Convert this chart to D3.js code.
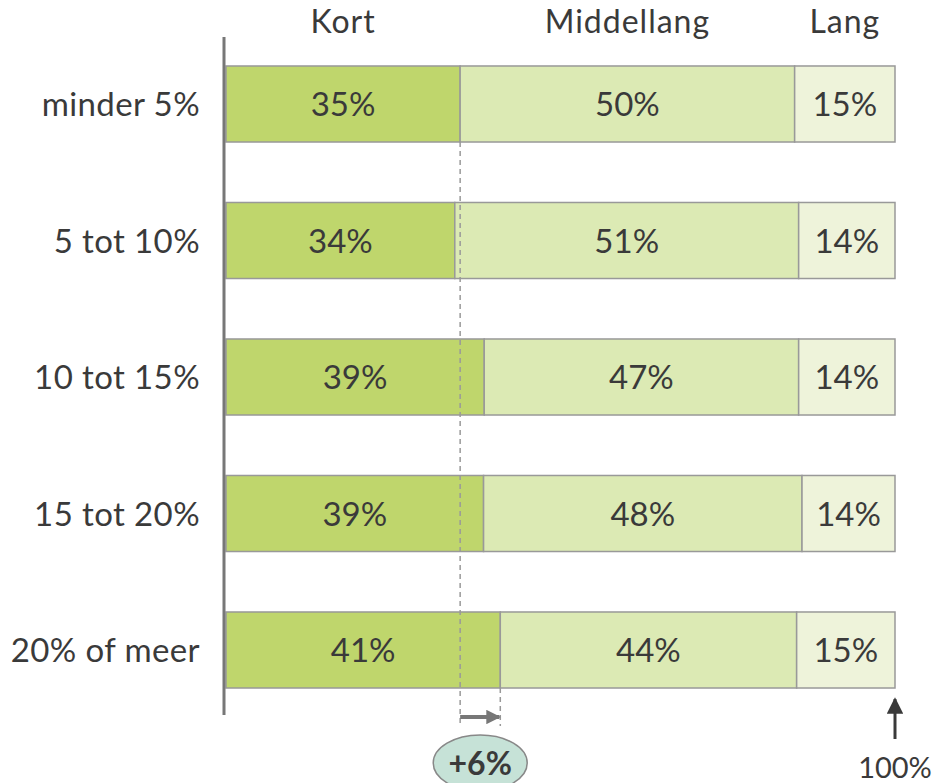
<!DOCTYPE html>
<html>
<head>
<meta charset="utf-8">
<script src="https://cdn.jsdelivr.net/npm/d3@7"></script>
<style>
  body { margin: 0; background: #fff; }
  svg text { font-family: Lato, "Open Sans", sans-serif; fill: #3a3a3a; }
</style>
</head>
<body>
<svg width="939" height="783"></svg>
<script>
var categories = ["minder 5%", "5 tot 10%", "10 tot 15%", "15 tot 20%", "20% of meer"]
var series = ["Kort", "Middellang", "Lang"]
var kort = [35.0, 34.2, 38.6, 38.5, 41.0]
var middellang = [50.0, 51.4, 47.0, 47.6, 44.3]
var lang = [15.0, 14.4, 14.4, 13.9, 14.7]
var labels = [[35, 50, 15], [34, 51, 14], [39, 47, 14], [39, 48, 14], [41, 44, 15]]
var colors = ["#bfd66c", "#dceab4", "#eef3da"]

var rows = categories.map((c, i) => ({cat: c, Kort: kort[i], Middellang: middellang[i], Lang: lang[i], lab: labels[i]}))

var svg = d3.select("svg")

var x = d3.scaleLinear().domain([0, 100]).range([226, 895])
var y = d3.scaleBand().domain(categories).range([35.75, 718.25])
    .paddingInner(0.443).paddingOuter(0.2215)

var stack = d3.stack().keys(series)(rows)

// balken
var g = svg.selectAll("g.serie").data(stack).enter().append("g")
    .attr("class", "serie").attr("fill", (d, i) => colors[i])

g.selectAll("rect").data(d => d).enter().append("rect")
    .attr("x", d => x(d[0])).attr("width", d => x(d[1]) - x(d[0]))
    .attr("y", d => y(d.data.cat)).attr("height", y.bandwidth())
    .attr("stroke", "#999").attr("stroke-width", 1.5)

// werte in balken
stack.forEach((s, si) => {
    svg.selectAll(null).data(s).enter().append("text")
        .attr("x", d => (x(d[0]) + x(d[1])) / 2)
        .attr("y", d => y(d.data.cat) + y.bandwidth() / 2 + 12)
        .attr("text-anchor", "middle").attr("font-size", 33)
        .text(d => d.data.lab[si] + "%")
})

// kategorien links
svg.selectAll("text.cat").data(categories).enter().append("text")
    .attr("class", "cat")
    .attr("x", 200).attr("y", d => y(d) + y.bandwidth() / 2 + 12)
    .attr("text-anchor", "end").attr("font-size", 33).attr("letter-spacing", 0.4)
    .text(d => d)

// kopfzeile
svg.selectAll("text.head").data(stack).enter().append("text")
    .attr("class", "head")
    .attr("x", d => (x(d[0][0]) + x(d[0][1])) / 2).attr("y", 33)
    .attr("text-anchor", "middle").attr("font-size", 32).attr("letter-spacing", 1)
    .text(d => d.key)

// achse
svg.append("line").attr("x1", 224).attr("x2", 224).attr("y1", 37).attr("y2", 715)
    .attr("stroke", "#777").attr("stroke-width", 3)

// pfeilspitzen
var defs = svg.append("defs")
defs.append("marker").attr("id", "ah").attr("viewBox", "0 0 10 10")
    .attr("refX", 9).attr("refY", 5).attr("markerWidth", 4.2).attr("markerHeight", 3.6)
    .attr("orient", "auto").append("path").attr("d", "M0,0L10,5L0,10z").attr("fill", "#777")
defs.append("marker").attr("id", "ah2").attr("viewBox", "0 0 10 10")
    .attr("refX", 9).attr("refY", 5).attr("markerWidth", 5.5).attr("markerHeight", 5.5)
    .attr("orient", "auto").append("path").attr("d", "M0,0L10,5L0,10z").attr("fill", "#3a3a3a")

// gestrichelte linien
var first = stack[0][0], last = stack[0][categories.length - 1]
svg.append("line").attr("x1", x(first[1])).attr("x2", x(first[1]))
    .attr("y1", y(first.data.cat) + y.bandwidth()).attr("y2", 724)
    .attr("stroke", "#999").attr("stroke-width", 1.5).attr("stroke-dasharray", "5,4")
svg.append("line").attr("x1", x(last[1])).attr("x2", x(last[1]))
    .attr("y1", y(last.data.cat) + y.bandwidth()).attr("y2", 726)
    .attr("stroke", "#999").attr("stroke-width", 1.5).attr("stroke-dasharray", "5,4")

svg.append("line").attr("x1", x(first[1])).attr("x2", x(last[1]) - 1)
    .attr("y1", 717).attr("y2", 717)
    .attr("stroke", "#777").attr("stroke-width", 4).attr("marker-end", "url(#ah)")

var cx = (x(first[1]) + x(last[1])) / 2
svg.append("ellipse").attr("cx", cx).attr("cy", 763).attr("rx", 47).attr("ry", 28)
    .attr("fill", "#c6e2d7").attr("stroke", "#888").attr("stroke-width", 1.5)
svg.append("text").attr("x", cx).attr("y", 775).attr("text-anchor", "middle")
    .attr("font-size", 32).attr("font-weight", 700)
    .text("+" + Math.round(last.data.Kort - first.data.Kort) + "%")

// 100%
svg.append("line").attr("x1", x(100)).attr("x2", x(100)).attr("y1", 739).attr("y2", 699)
    .attr("stroke", "#3a3a3a").attr("stroke-width", 3).attr("marker-end", "url(#ah2)")
svg.append("text").attr("x", x(100)).attr("y", 778).attr("text-anchor", "middle")
    .attr("font-size", 29).text("100%")
</script>
</body>
</html>
